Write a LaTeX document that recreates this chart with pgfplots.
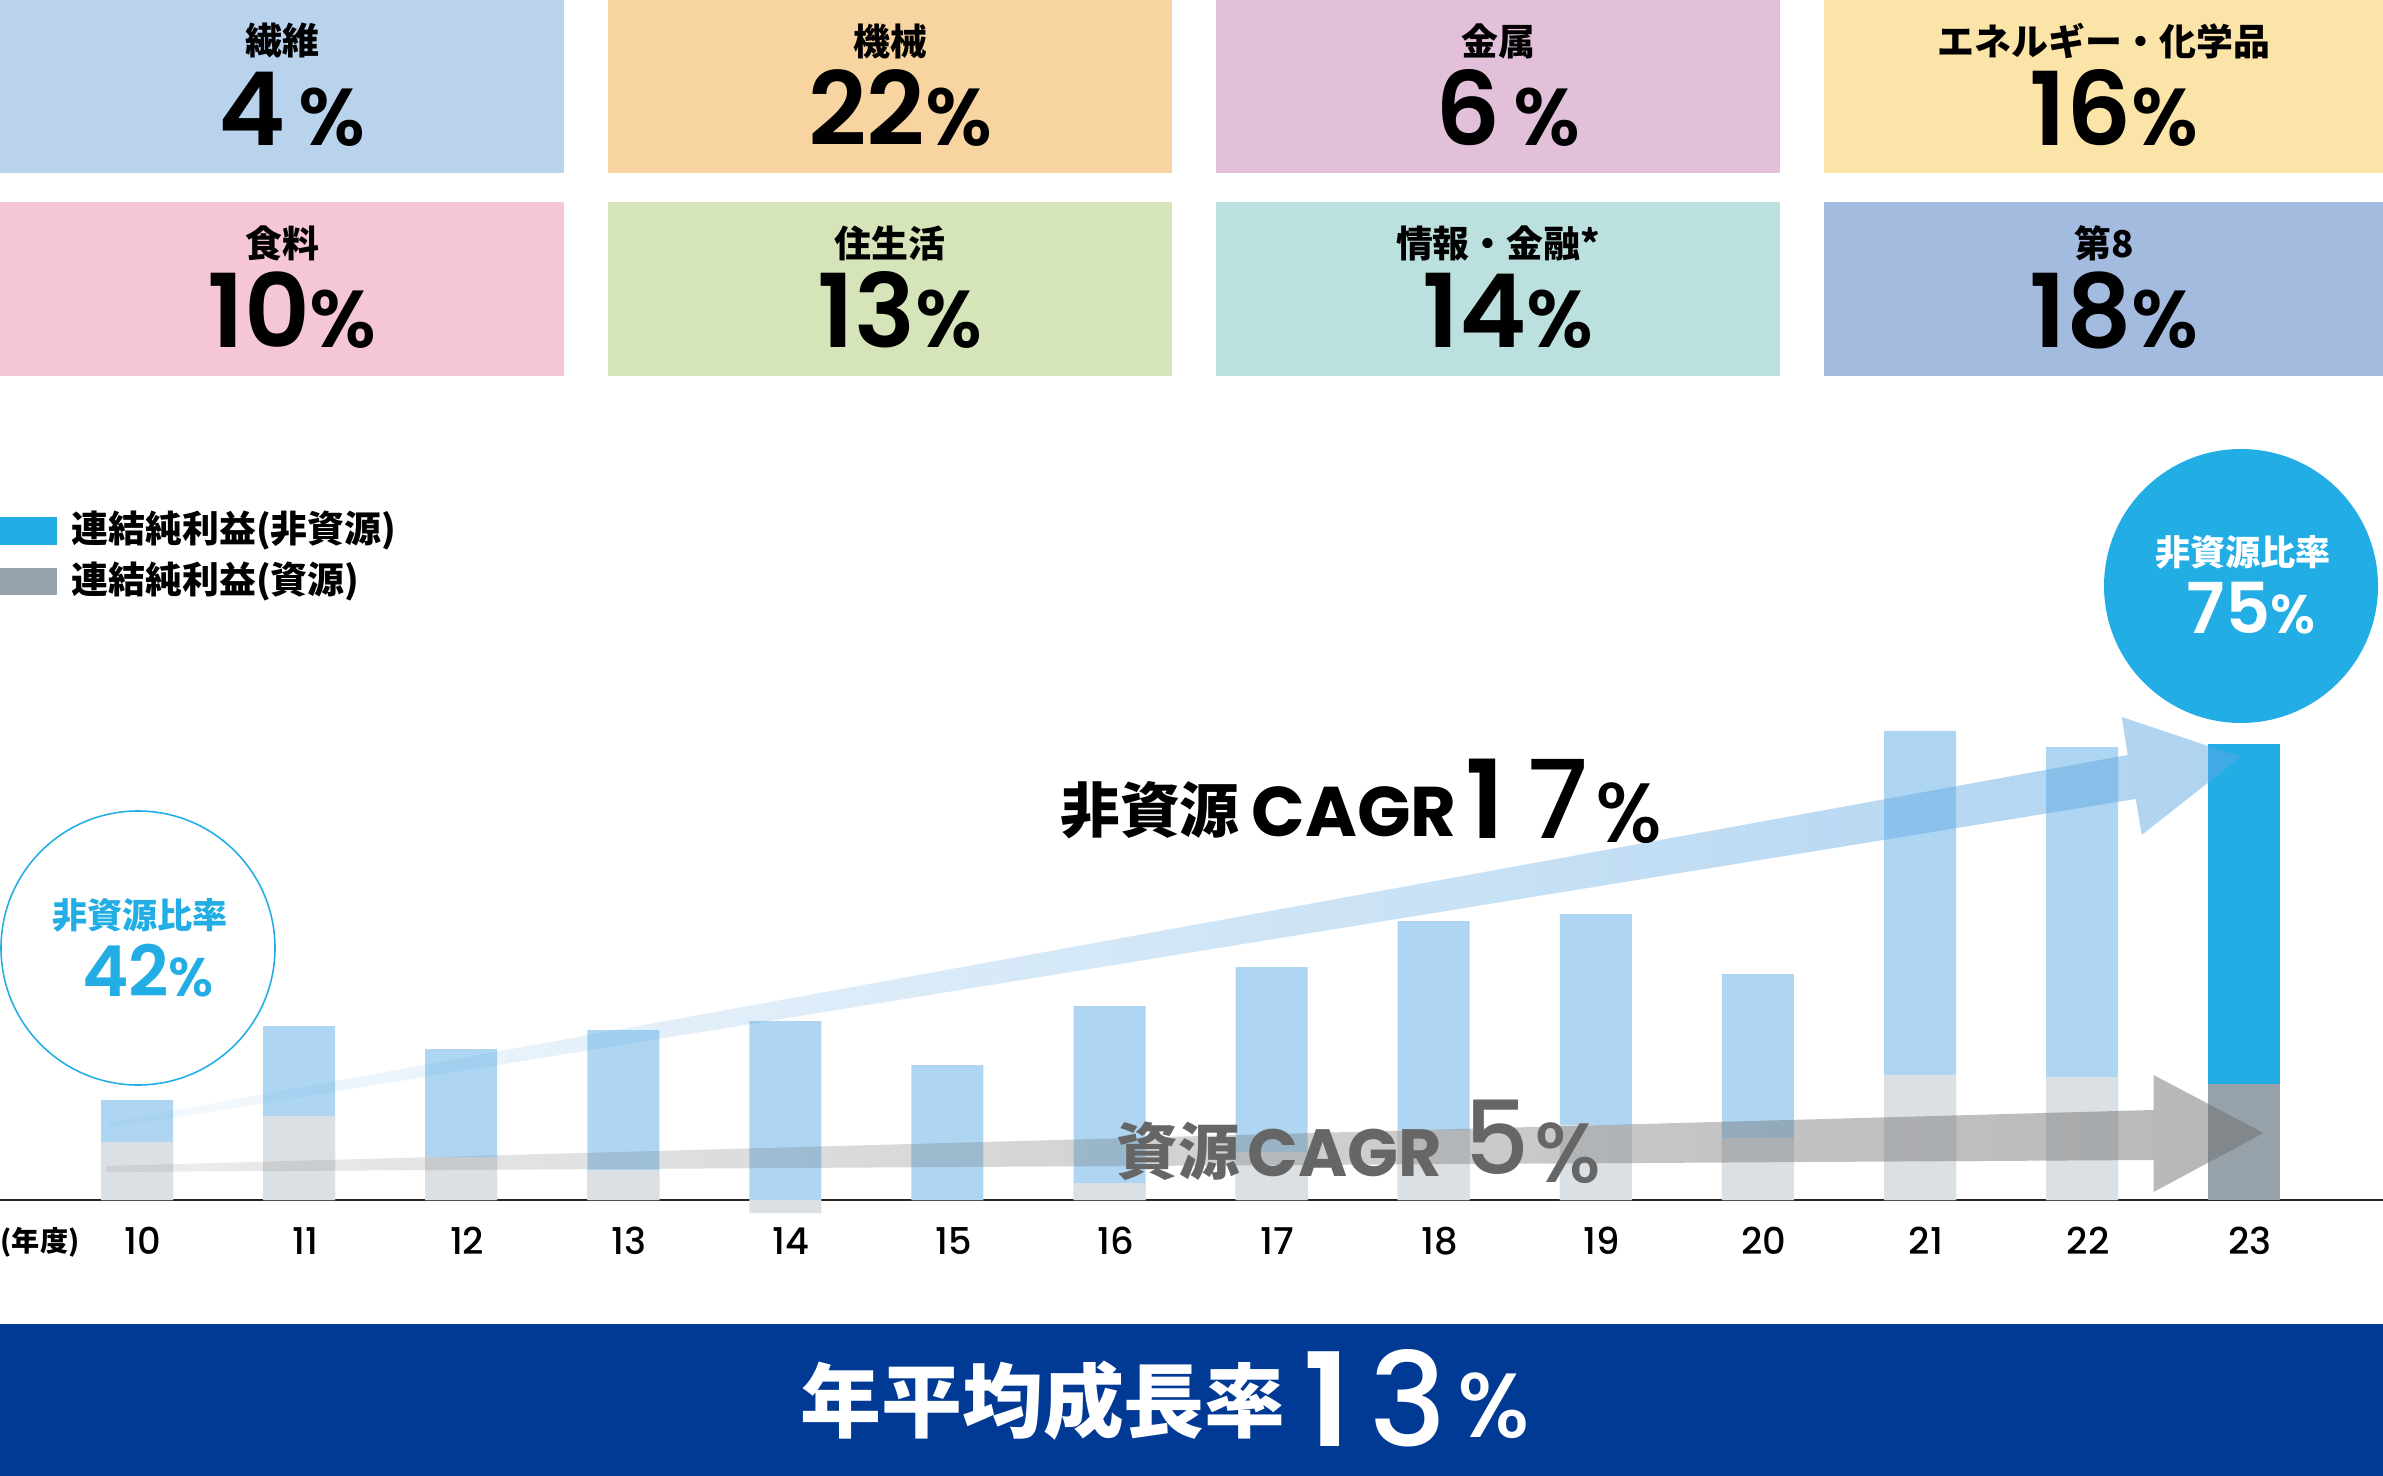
\documentclass[border=0pt]{standalone}
\usepackage{fontspec}
\setmainfont{Noto Sans CJK JP}
\newfontfamily\pop{Poppins}
\IfFontExistsTF{Poppins Medium}{\newfontfamily\popm{Poppins Medium}}{\newfontfamily\popm{Poppins}}
\IfFontExistsTF{Poppins SemiBold}{\newfontfamily\pops{Poppins SemiBold}}{\newfontfamily\pops{Poppins}[UprightFont=*-Bold]}
\usepackage{pgfplots}
\pgfplotsset{compat=1.18}
\usepackage{pgfplotstable}
\usetikzlibrary{fadings}

\tikzfading[name=growb, left color=transparent!88, right color=transparent!0]
\tikzfading[name=growg, left color=transparent!75, right color=transparent!0]

\definecolor{nonres}{HTML}{22AEE5}
\definecolor{res}{HTML}{96A1A9}
\definecolor{barblue}{HTML}{AED6F2}
\definecolor{bargray}{HTML}{DBE0E4}
\definecolor{arrowblue}{HTML}{5DA7E1}
\definecolor{arrowgray}{HTML}{6E6E6E}
\definecolor{textgray}{HTML}{666666}
\definecolor{navy}{HTML}{003A94}
\definecolor{c1}{HTML}{B9D3EC}
\definecolor{c2}{HTML}{F8D4A0}
\definecolor{c3}{HTML}{E2C0DA}
\definecolor{c4}{HTML}{FAE4A8}
\definecolor{c5}{HTML}{F5C6D4}
\definecolor{c6}{HTML}{D5E5B9}
\definecolor{c7}{HTML}{BBE0DE}
\definecolor{c8}{HTML}{A4BBE0}

\newcommand\fs[1]{\fontsize{#1}{#1}\selectfont}
% segment box: x centre, top, label, number, percent
\newcommand\seg[5]{%
  \node[font=\bfseries\fs{10.5pt}] at (#1,#2+41) {#3};
  \node[anchor=base, inner sep=0pt] at (#1+10,#2+146) {\pops\fs{29pt}#4\fs{23pt}#5};
}

% consolidated net profit, 100 million yen (x: 0 = FY10 ... 13 = FY23)
\pgfplotstableread{
x  res   nonres
0  1020  738
1  1477  1582
2  756   1899
3  527   2461
4  -229  3147
5  0     2373
6  299   3112
7  844   3252
8  1231  3674
9  1319  3709
10 1090  2883
11 2198  6048
12 2162  5801
13 2039  5977
}\profit

\begin{document}
\begin{tikzpicture}
\useasboundingbox (0,0) rectangle (238.3mm,-147.6mm);

\begin{scope}[x=0.1mm, y=-0.1mm]
  \fill[c1] (0,0) rectangle (564,173);
  \fill[c2] (608,0) rectangle (1172,173);
  \fill[c3] (1216,0) rectangle (1780,173);
  \fill[c4] (1824,0) rectangle (2383,173);
  \fill[c5] (0,202) rectangle (564,376);
  \fill[c6] (608,202) rectangle (1172,376);
  \fill[c7] (1216,202) rectangle (1780,376);
  \fill[c8] (1824,202) rectangle (2383,376);
  \seg{282}{0}{繊維}{4\hspace{1.3mm}}{\%}
  \seg{890}{0}{機械}{22}{\%}
  \seg{1498}{0}{金属}{6\hspace{1.3mm}}{\%}
  \seg{2104}{0}{エネルギー・化学品}{16}{\%}
  \seg{282}{202}{食料}{10}{\%}
  \seg{890}{202}{住生活}{13}{\%}
  \seg{1498}{202}{情報・金融*}{14}{\%}
  \seg{2104}{202}{第8}{18}{\%}

  \fill[nonres] (0,517) rectangle (57,545);
  \fill[res] (0,568) rectangle (57,595);
  \node[anchor=west, inner sep=0pt, font=\bfseries\fs{10.5pt}] at (71,531) {連結純利益(非資源)};
  \node[anchor=west, inner sep=0pt, font=\bfseries\fs{10.5pt}] at (71,582) {連結純利益(資源)};
\end{scope}

\begin{axis}[
    at={(0mm,-125.69mm)}, anchor=south west,
    scale only axis, width=238.3mm, height=56.88mm,
    xmin=-0.8452, xmax=13.8563, ymin=-1000, ymax=9000,
    axis x line=middle, axis y line=none,
    x axis line style={-, draw=black!85, line width=0.6pt},
    xtick={0,...,13},
    xticklabels={10,11,12,13,14,15,16,17,18,19,20,21,22,23},
    major tick length=0pt, ytick=\empty,
    xticklabel style={font=\popm\fs{10.5pt}, anchor=base, xshift=0.6mm, yshift=-5.4mm, inner sep=0pt},
    clip=false,
]
  \addplot[ybar, bar width=7.2mm, fill=barblue, draw=none, restrict x to domain=0:12]
    table[x=x, y expr={\thisrow{nonres}+max(\thisrow{res},0)}] {\profit};
  \addplot[ybar, bar width=7.2mm, fill=bargray, draw=none, restrict x to domain=0:12]
    table[x=x, y=res] {\profit};
  \addplot[ybar, bar width=7.2mm, fill=nonres, draw=none, restrict x to domain=13:13]
    table[x=x, y expr={\thisrow{nonres}+max(\thisrow{res},0)}] {\profit};
  \addplot[ybar, bar width=7.2mm, fill=res, draw=none, restrict x to domain=13:13]
    table[x=x, y=res] {\profit};
\end{axis}

\begin{scope}[x=0.1mm, y=-0.1mm]
  % growth arrows
  \fill[arrowblue, fill opacity=0.5, path fading=growb]
    (111,1122) -- (2129,755) -- (2123,717) -- (2242,757) -- (2143,835)
    -- (2137,799) -- (111,1128) -- cycle;
  \fill[arrowgray, fill opacity=0.5, path fading=growg]
    (107,1166) -- (2156,1110) -- (2156,1075) -- (2266,1133) -- (2156,1192)
    -- (2156,1160) -- (107,1172) -- cycle;

  \node[font=\bfseries\fs{17pt}] at (1150,810) {非資源};
  \node[anchor=base west, inner sep=0pt] at (1251,837) {\pop\bfseries\fs{20pt}CAGR};
  \node[anchor=base, inner sep=0pt] at (1485,838) {\pops\fs{31pt}1};
  \node[anchor=base, inner sep=0pt] at (1558,838) {\popm\fs{31pt}7};
  \node[anchor=base west, inner sep=0pt] at (1595,843) {\popm\fs{24pt}\%};

  \node[text=textgray, font=\bfseries\fs{17.5pt}] at (1178,1151) {資源};
  \node[text=textgray, anchor=base west, inner sep=0pt] at (1247,1176) {\pop\bfseries\fs{19pt}CAGR};
  \node[text=textgray, anchor=base, inner sep=0pt] at (1497,1174) {\popm\fs{29pt}5};
  \node[text=textgray, anchor=base west, inner sep=0pt] at (1534,1182) {\popm\fs{24pt}\%};

  % ratio circles
  \draw[nonres, line width=0.45pt] (138,948) circle[radius=137];
  \node[text=nonres, font=\bfseries\fs{10pt}] at (140,915) {非資源比率};
  \node[text=nonres, anchor=base, inner sep=0pt] at (148,996) {\pops\fs{20pt}42\fs{15.5pt}\%};
  \fill[nonres] (2241,586) circle[radius=137];
  \node[text=white, font=\bfseries\fs{10pt}] at (2243,552) {非資源比率};
  \node[text=white, anchor=base, inner sep=0pt] at (2251,634) {\pops\fs{20pt}75\fs{15.5pt}\%};

  \node[font=\bfseries\fs{8pt}] at (40,1242) {(年度)};

  % banner
  \fill[navy] (0,1324) rectangle (2383,1476);
  \node[text=white, font=\bfseries\fs{23pt}] at (1043,1401) {年平均成長率};
  \node[text=white, anchor=base, inner sep=0pt] at (1327,1446) {\pops\fs{37pt}1};
  \node[text=white, anchor=base, inner sep=0pt] at (1408,1446) {\popm\fs{37pt}3};
  \node[text=white, anchor=base west, inner sep=0pt] at (1457,1437) {\popm\fs{26pt}\%};
\end{scope}
\end{tikzpicture}
\end{document}
